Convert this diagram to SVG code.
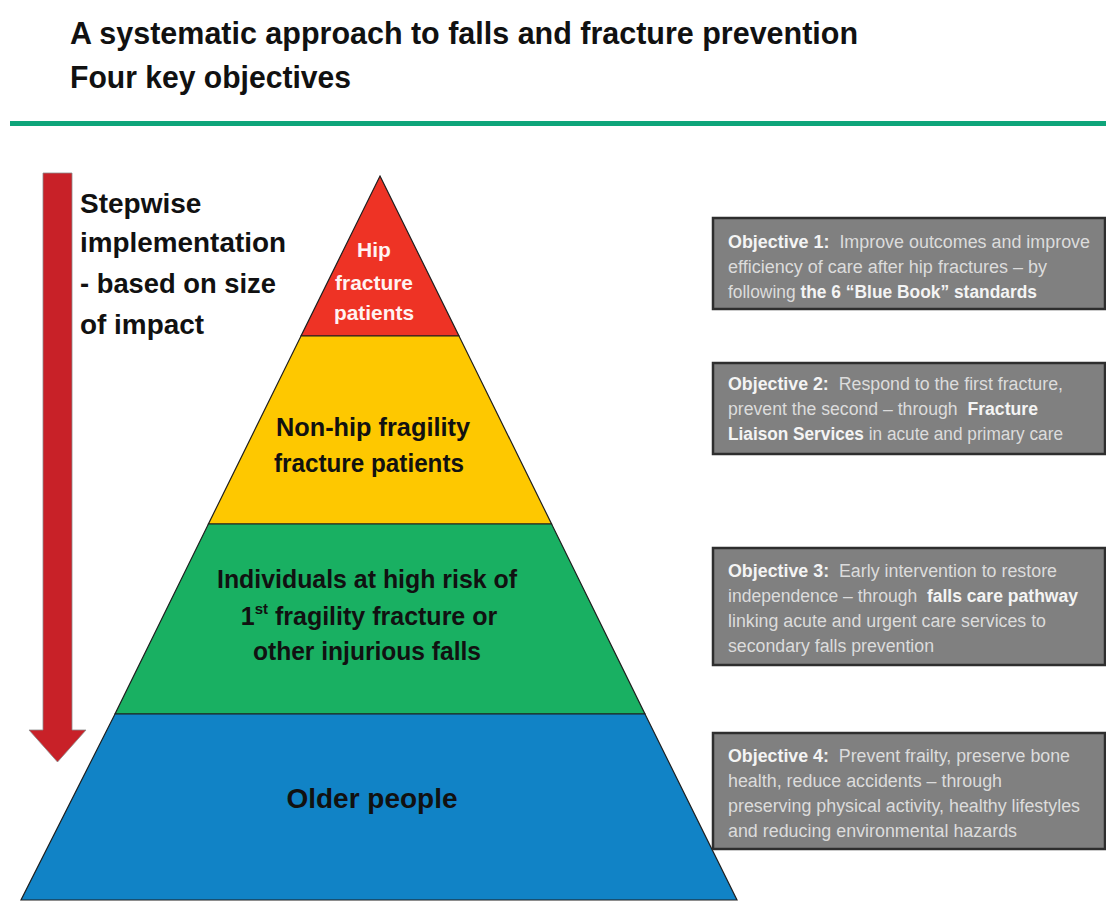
<svg xmlns="http://www.w3.org/2000/svg" width="1106" height="903" viewBox="0 0 1106 903">
<style>
.title{font-family:"Liberation Sans",Arial,sans-serif;font-weight:bold;font-size:32px;fill:#111}
.step{font-family:"Liberation Sans",Arial,sans-serif;font-weight:bold;font-size:28px;fill:#111}
.tier{font-family:"Liberation Sans",Arial,sans-serif;font-weight:bold;fill:#111;text-anchor:middle}
.tierw{font-family:"Liberation Sans",Arial,sans-serif;font-weight:bold;fill:#fff3f3;text-anchor:middle;font-size:21px}
.tierpoly{stroke:#1e1e1e;stroke-width:1.2}
.box{fill:#808080;stroke:#2e2e2e;stroke-width:2.5}
.obj{font-family:"Liberation Sans",Arial,sans-serif;font-size:18px;fill:#dcdcdc}
.b{font-weight:bold;fill:#f4f4f4}
</style>
<rect x="0" y="0" width="1106" height="903" fill="#ffffff"/>
<g id="title">
<text class="title" x="70" y="44" textLength="788" lengthAdjust="spacingAndGlyphs">A systematic approach to falls and fracture prevention</text>
<text class="title" x="70" y="88" textLength="281" lengthAdjust="spacingAndGlyphs">Four key objectives</text>
<rect x="10" y="121" width="1096" height="5" fill="#0ea57a"/>
</g>
<g id="stepwise-arrow">
<path d="M43,173 L72,173 L72,730 L86,730 L57.5,762 L29,730 L43,730 Z" fill="#c82128" stroke="#8a8a8a" stroke-width="0.8"/>
<text class="step" x="80" y="213">Stepwise</text>
<text class="step" x="80" y="252" textLength="206" lengthAdjust="spacingAndGlyphs">implementation</text>
<text class="step" x="80" y="293" textLength="196" lengthAdjust="spacingAndGlyphs">- based on size</text>
<text class="step" x="80" y="334" textLength="124" lengthAdjust="spacingAndGlyphs">of impact</text>
</g>
<g id="tier-hip">
<polygon class="tierpoly" points="380,176 459,336 301,336" fill="#ee3325"/>
<text class="tierw" x="374" y="257">Hip</text>
<text class="tierw" x="374" y="290" textLength="78" lengthAdjust="spacingAndGlyphs">fracture</text>
<text class="tierw" x="374" y="320" textLength="80" lengthAdjust="spacingAndGlyphs">patients</text>
</g>
<g id="tier-nonhip">
<polygon class="tierpoly" points="301,336 459,336 551.6,524 208.4,524" fill="#fec800"/>
<text class="tier" x="373" y="436" font-size="26" textLength="194" lengthAdjust="spacingAndGlyphs">Non-hip fragility</text>
<text class="tier" x="369" y="472" font-size="26" textLength="190" lengthAdjust="spacingAndGlyphs">fracture patients</text>
</g>
<g id="tier-highrisk">
<polygon class="tierpoly" points="208.4,524 551.6,524 645,714 115,714" fill="#19b062"/>
<text class="tier" x="367" y="588" font-size="26" textLength="300" lengthAdjust="spacingAndGlyphs">Individuals at high risk of</text>
<text class="tier" x="369" y="625" font-size="25">1<tspan font-size="15" dy="-11">st</tspan><tspan dy="11"> fragility fracture or</tspan></text>
<text class="tier" x="367" y="660" font-size="26" textLength="228" lengthAdjust="spacingAndGlyphs">other injurious falls</text>
</g>
<g id="tier-older">
<polygon class="tierpoly" points="115,714 645,714 737,900 21,900" fill="#1183c6"/>
<text class="tier" x="372" y="808" font-size="28" textLength="171" lengthAdjust="spacingAndGlyphs">Older people</text>
</g>
<g id="objective-1">
<rect class="box" x="713" y="218" width="392" height="91"/>
<text class="obj" x="728" y="248" textLength="362" lengthAdjust="spacingAndGlyphs"><tspan class="b">Objective 1:</tspan>&#160; Improve outcomes and improve</text>
<text class="obj" x="728" y="273" textLength="319" lengthAdjust="spacingAndGlyphs">efficiency of care after hip fractures – by</text>
<text class="obj" x="728" y="298" textLength="309" lengthAdjust="spacingAndGlyphs">following <tspan class="b">the 6 “Blue Book” standards</tspan></text>
</g>
<g id="objective-2">
<rect class="box" x="713" y="363" width="392" height="91"/>
<text class="obj" x="728" y="390" textLength="335" lengthAdjust="spacingAndGlyphs"><tspan class="b">Objective 2:</tspan>&#160; Respond to the first fracture,</text>
<text class="obj" x="728" y="415" textLength="310" lengthAdjust="spacingAndGlyphs">prevent the second – through&#160; <tspan class="b">Fracture</tspan></text>
<text class="obj" x="728" y="440" textLength="335" lengthAdjust="spacingAndGlyphs"><tspan class="b">Liaison Services</tspan> in acute and primary care</text>
</g>
<g id="objective-3">
<rect class="box" x="713" y="548" width="392" height="117"/>
<text class="obj" x="728" y="577" textLength="329" lengthAdjust="spacingAndGlyphs"><tspan class="b">Objective 3:</tspan>&#160; Early intervention to restore</text>
<text class="obj" x="728" y="602" textLength="350" lengthAdjust="spacingAndGlyphs">independence – through&#160; <tspan class="b">falls care pathway</tspan></text>
<text class="obj" x="728" y="627" textLength="318" lengthAdjust="spacingAndGlyphs">linking acute and urgent care services to</text>
<text class="obj" x="728" y="652" textLength="206" lengthAdjust="spacingAndGlyphs">secondary falls prevention</text>
</g>
<g id="objective-4">
<rect class="box" x="713" y="733" width="392" height="116"/>
<text class="obj" x="728" y="762" textLength="342" lengthAdjust="spacingAndGlyphs"><tspan class="b">Objective 4:</tspan>&#160; Prevent frailty, preserve bone</text>
<text class="obj" x="728" y="787" textLength="274" lengthAdjust="spacingAndGlyphs">health, reduce accidents – through</text>
<text class="obj" x="728" y="812" textLength="352" lengthAdjust="spacingAndGlyphs">preserving physical activity, healthy lifestyles</text>
<text class="obj" x="728" y="837" textLength="289" lengthAdjust="spacingAndGlyphs">and reducing environmental hazards</text>
</g>
</svg>
